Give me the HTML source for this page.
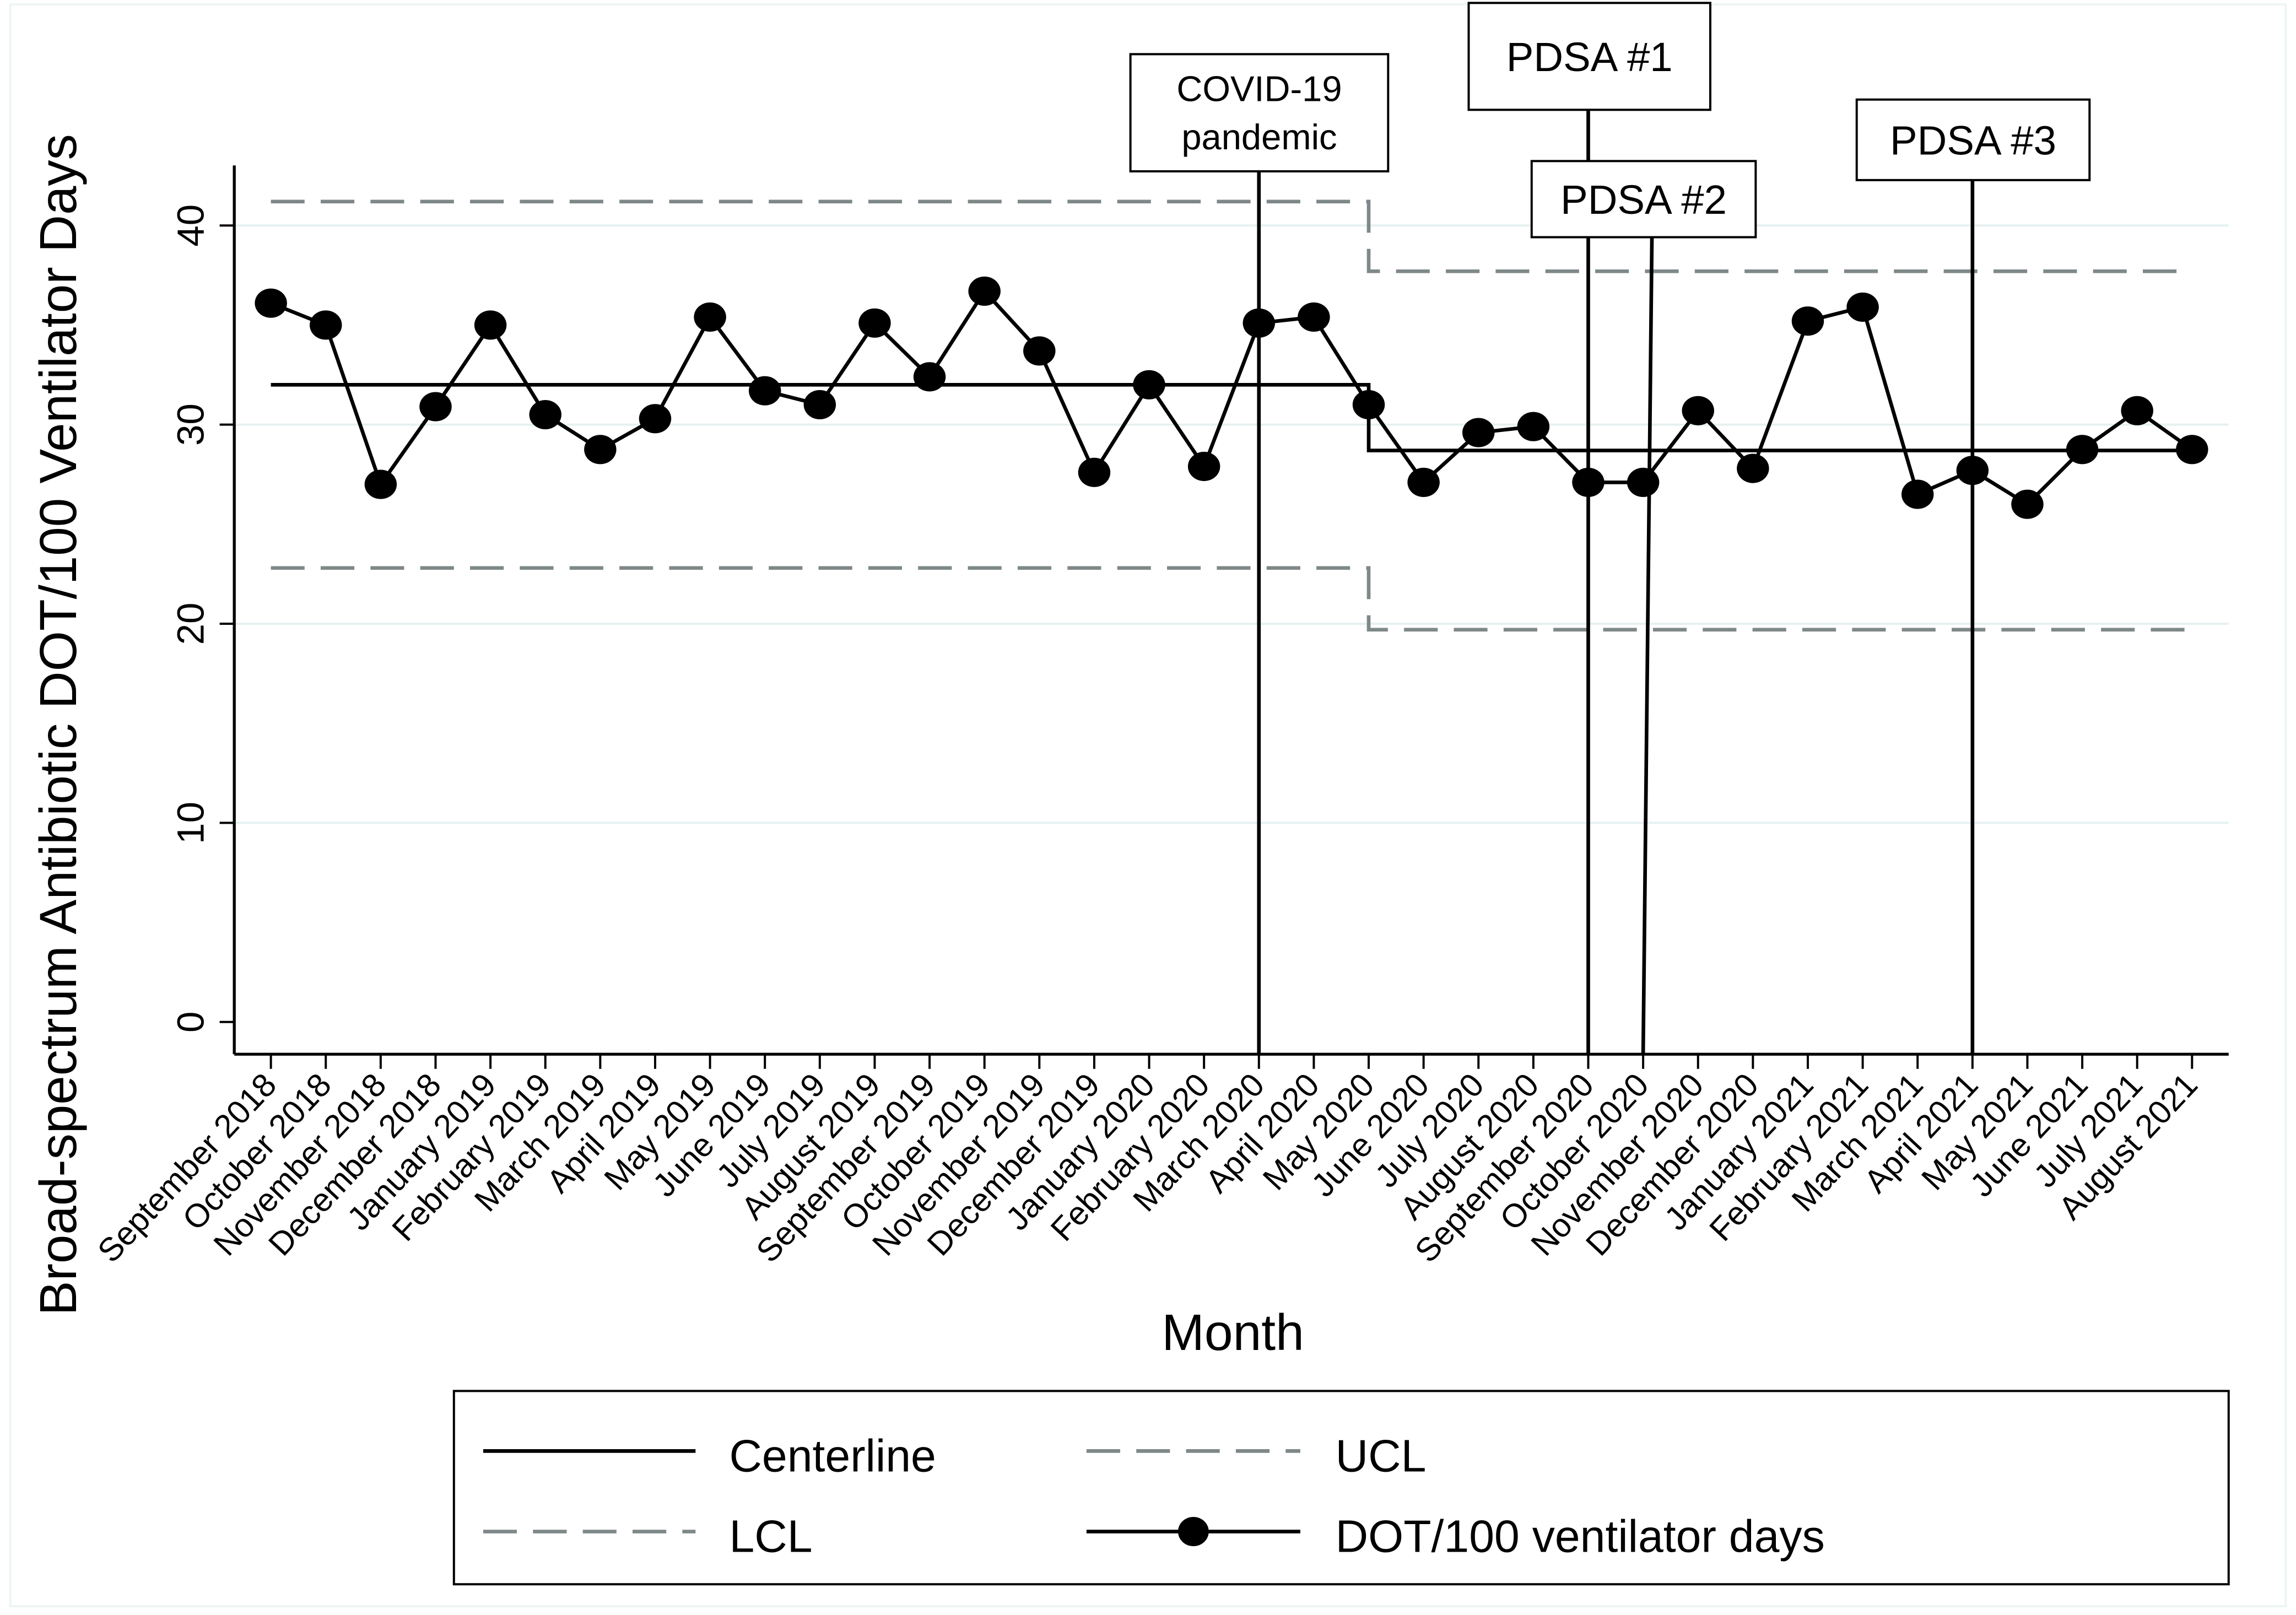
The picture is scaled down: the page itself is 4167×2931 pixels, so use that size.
<!DOCTYPE html>
<html><head><meta charset="utf-8"><style>
html,body{margin:0;padding:0;background:#fff}
svg{display:block}
text{font-family:"Liberation Sans",Arial,sans-serif;fill:#000}
</style></head><body>
<svg id="chart" width="4167" height="2931" viewBox="0 0 1568 1103" preserveAspectRatio="none" xmlns="http://www.w3.org/2000/svg">
<rect x="7" y="3" width="1554" height="1094" fill="none" stroke="#eef5f5" stroke-width="1.5"/>
<g id="grid"></g>
<g id="limits"></g>
<g id="annot"></g>
<g id="series"></g>
<g id="axes"></g>
<text x="52" y="495" font-size="35.5" text-anchor="middle" transform="rotate(-90 52 495)">Broad-spectrum Antibiotic DOT/100 Ventilator Days</text>
<text x="842" y="922" font-size="35" text-anchor="middle">Month</text>
<g>
<rect x="310" y="950" width="1212" height="132" fill="#fff" stroke="#000" stroke-width="1.5"/>
<g>
<line x1="330" y1="991" x2="475" y2="991" stroke="#000" stroke-width="2.5"/>
<text x="498" y="1005" font-size="31">Centerline</text></g>
<g>
<line x1="742" y1="991" x2="888" y2="991" stroke="#7f8888" stroke-width="2.5" stroke-dasharray="23,11"/>
<text x="912" y="1005" font-size="31">UCL</text></g>
<g>
<line x1="330" y1="1046" x2="475" y2="1046" stroke="#7f8888" stroke-width="2.5" stroke-dasharray="23,11"/>
<text x="498" y="1060" font-size="31">LCL</text></g>
<g>
<line x1="742" y1="1046" x2="888" y2="1046" stroke="#000" stroke-width="2.5"/>
<ellipse cx="815" cy="1046" rx="10.5" ry="10" fill="#000"/>
<text x="912" y="1060" font-size="31">DOT/100 ventilator days</text></g>
</g>
</svg>
<script>
const months = ["September 2018","October 2018","November 2018","December 2018","January 2019","February 2019","March 2019","April 2019","May 2019","June 2019","July 2019","August 2019","September 2019","October 2019","November 2019","December 2019","January 2020","February 2020","March 2020","April 2020","May 2020","June 2020","July 2020","August 2020","September 2020","October 2020","November 2020","December 2020","January 2021","February 2021","March 2021","April 2021","May 2021","June 2021","July 2021","August 2021"];
const dotValues = [36.1,35.0,27.0,30.9,35.0,30.5,28.75,30.3,35.4,31.7,31.0,35.1,32.4,36.7,33.7,27.6,32.0,27.9,35.1,35.4,31.0,27.1,29.6,29.9,27.1,27.1,30.7,27.8,35.2,35.9,26.5,27.7,26.0,28.75,30.7,28.75];
const yTicks = [0,10,20,30,40];
const phaseBreak = 20;
const centerline = [32.0,28.7];
const ucl = [41.2,37.7];
const lcl = [22.8,19.7];
const annotations = [
 {idx:18, lines:["COVID-19","pandemic"]},
 {idx:24, lines:["PDSA #1"]},
 {idx:25, lines:["PDSA #2"]},
 {idx:31, lines:["PDSA #3"]}
];
const NS="http://www.w3.org/2000/svg";
const L=160,R=1522,B=720,T=113;
const xs=i=>185+i*(1497-185)/35;
const ys=v=>698-13.6*v;
function mk(tag,attrs,parent){const e=document.createElementNS(NS,tag);for(const k in attrs)e.setAttribute(k,attrs[k]);parent.appendChild(e);return e;}
const grid=document.getElementById('grid'),axes=document.getElementById('axes'),lim=document.getElementById('limits'),ser=document.getElementById('series'),ann=document.getElementById('annot');
yTicks.forEach(v=>{
 if(v>0){const g=mk('line',{x1:L,x2:R,y1:ys(v),y2:ys(v),stroke:'#e6f1f1','stroke-width':1.5},grid);
 
 }
 const t=mk('line',{x1:150,x2:L,y1:ys(v),y2:ys(v),stroke:'#000','stroke-width':1.5},axes);
 
 
 const tx=mk('text',{x:139,y:ys(v),'font-size':26,'text-anchor':'middle',transform:`rotate(-90 139 ${ys(v)})`},axes);
 tx.textContent=v;
 
 
});
const ya=mk('line',{x1:L,x2:L,y1:T,y2:B,stroke:'#000','stroke-width':2},axes);


const xa=mk('line',{x1:L,x2:R,y1:B,y2:B,stroke:'#000','stroke-width':2},axes);


months.forEach((m,i)=>{
 const x=xs(i);
 const t=mk('line',{x1:x,x2:x,y1:B,y2:B+10,stroke:'#000','stroke-width':1.5},axes);
 
 
 const tx=mk('text',{x:x+5,y:B+22,'font-size':22.5,'text-anchor':'end',transform:`rotate(-47 ${x+5} ${B+22})`},axes);
 tx.textContent=m;
 
 
});
function stepPath(vals){const x0=xs(0),xb=xs(phaseBreak),x1=xs(months.length-1);
 return `M${x0},${ys(vals[0])}H${xb}V${ys(vals[1])}H${x1}`;}
[[ucl,'ucl-line'],[lcl,'lcl-line']].forEach(([v,n])=>{
 const p=mk('path',{d:stepPath(v),fill:'none',stroke:'#7f8888','stroke-width':2.5,'stroke-dasharray':'23,11'},lim);
 
 
});
const cl=mk('path',{d:stepPath(centerline),fill:'none',stroke:'#000','stroke-width':2.5},lim);


const boxes={18:[772,37,176,80,117],24:[1003,2,165,73,75],25:[1046,110,153,52,162],31:[1268,68,159,55,123]};
annotations.forEach(a=>{
 const [bx,by,bw,bh,lineTop]=boxes[a.idx];const x=xs(a.idx);
 const topX = a.idx===25 ? x+6 : x;
 const ln=mk('line',{x1:topX,y1:lineTop,x2:x,y2:B,stroke:'#000','stroke-width':2.5},ann);
 
 
 const r=mk('rect',{x:bx,y:by,width:bw,height:bh,fill:'#fff',stroke:'#000','stroke-width':1.5},ann);
 
 
 a.lines.forEach((s,k)=>{
  const fs=a.lines.length>1?24.5:28;
  const ty=a.lines.length>1?by+32+k*33:by+bh/2+10;
  const t=mk('text',{x:bx+bw/2,y:ty,'font-size':fs,'text-anchor':'middle'},ann);
  t.textContent=s;
  
  
 });
});
const pl=mk('polyline',{points:dotValues.map((v,i)=>xs(i)+','+ys(v)).join(' '),fill:'none',stroke:'#000','stroke-width':2.5},ser);


dotValues.forEach((v,i)=>{
 const c=mk('ellipse',{cx:xs(i),cy:ys(v),rx:11,ry:10,fill:'#000'},ser);
 
 
});
</script>
</body></html>
